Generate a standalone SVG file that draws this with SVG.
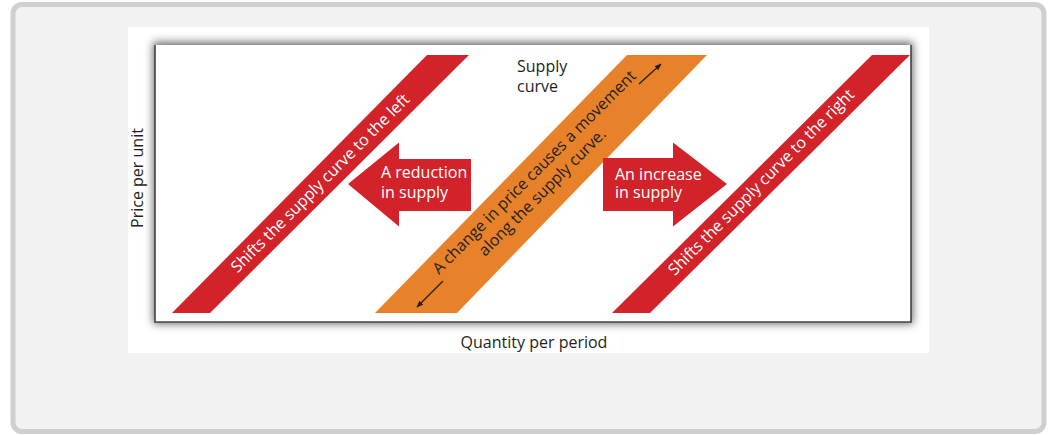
<svg xmlns="http://www.w3.org/2000/svg" width="1048" height="435" viewBox="0 0 1048 435">
<style>
.lbl{font-family:"Open Sans","Liberation Sans",Arial,sans-serif;font-size:16px;fill:#231f20}
.wt{font-family:"Open Sans","Liberation Sans",Arial,sans-serif;font-size:16px;fill:#ffffff}
.red{fill:#d2232a}
.orange{fill:#e8822a}
.thin{stroke:#231f20;stroke-width:1.3;fill:none}
</style>
<defs>
<filter id="sh" x="-10%" y="-10%" width="120%" height="120%">
<feGaussianBlur stdDeviation="4"/>
</filter>
<marker id="ah" viewBox="0 0 10 10" refX="9" refY="5" markerWidth="7" markerHeight="7" orient="auto" markerUnits="userSpaceOnUse">
<path d="M0,1 L10,5 L0,9 Z" fill="#231f20"/>
</marker>
</defs>
<rect x="13" y="4.5" width="1031" height="427" rx="9" fill="#f2f2f2" stroke="#cfcfcf" stroke-width="5"/>
<rect x="128" y="27" width="801" height="326" fill="#ffffff"/>
<g id="frame">
<rect x="153" y="42" width="760" height="282" fill="#6d6d6d" filter="url(#sh)"/>
<rect x="155" y="45" width="756" height="277" fill="#ffffff"/>
<path d="M155,45 V322 H911 V45" fill="none" stroke="#444" stroke-width="1.6"/>
</g>
<g id="left-band">
<polygon class="red" points="172,313 210,313 469,55 427,55"/>
<text class="wt" text-anchor="middle" transform="translate(324,187) rotate(-45)">Shifts the supply curve to the left</text>
</g>
<g id="supply-curve">
<polygon class="orange" points="375,313 457,313 707,55 627,55"/>
<text class="lbl" text-anchor="middle" transform="translate(538,176) rotate(-45)">A change in price causes a movement</text>
<text class="lbl" text-anchor="middle" transform="translate(546,196) rotate(-45)">along the supply curve.</text>
</g>
<g id="right-band">
<polygon class="red" points="612,313 650,313 910,55 872,55"/>
<text class="wt" text-anchor="middle" transform="translate(765,186) rotate(-45)">Shifts the supply curve to the right</text>
</g>
<g id="reduction">
<polygon class="red" points="348,184 399,142.5 399,159 471,159 471,211 399,211 399,226.5"/>
<text class="wt" x="381" y="178">A reduction</text>
<text class="wt" x="381" y="198">in supply</text>
</g>
<g id="increase">
<polygon class="red" points="603,158 673,158 673,142.5 727,184 673,226.5 673,211 603,211"/>
<text class="wt" x="615" y="180">An increase</text>
<text class="wt" x="615" y="198">in supply</text>
</g>
<g id="supply-label">
<text class="lbl" x="517" y="72">Supply</text>
<text class="lbl" x="517" y="92">curve</text>
</g>
<g id="axis-labels">
<text class="lbl" text-anchor="middle" transform="translate(143,178) rotate(-90)">Price per unit</text>
<text class="lbl" x="534" y="348" text-anchor="middle">Quantity per period</text>
</g>
<g id="connectors">
<line class="thin" x1="639" y1="84" x2="661" y2="64" marker-end="url(#ah)"/>
<line class="thin" x1="443" y1="281" x2="417" y2="307" marker-end="url(#ah)"/>
</g>
</svg>
